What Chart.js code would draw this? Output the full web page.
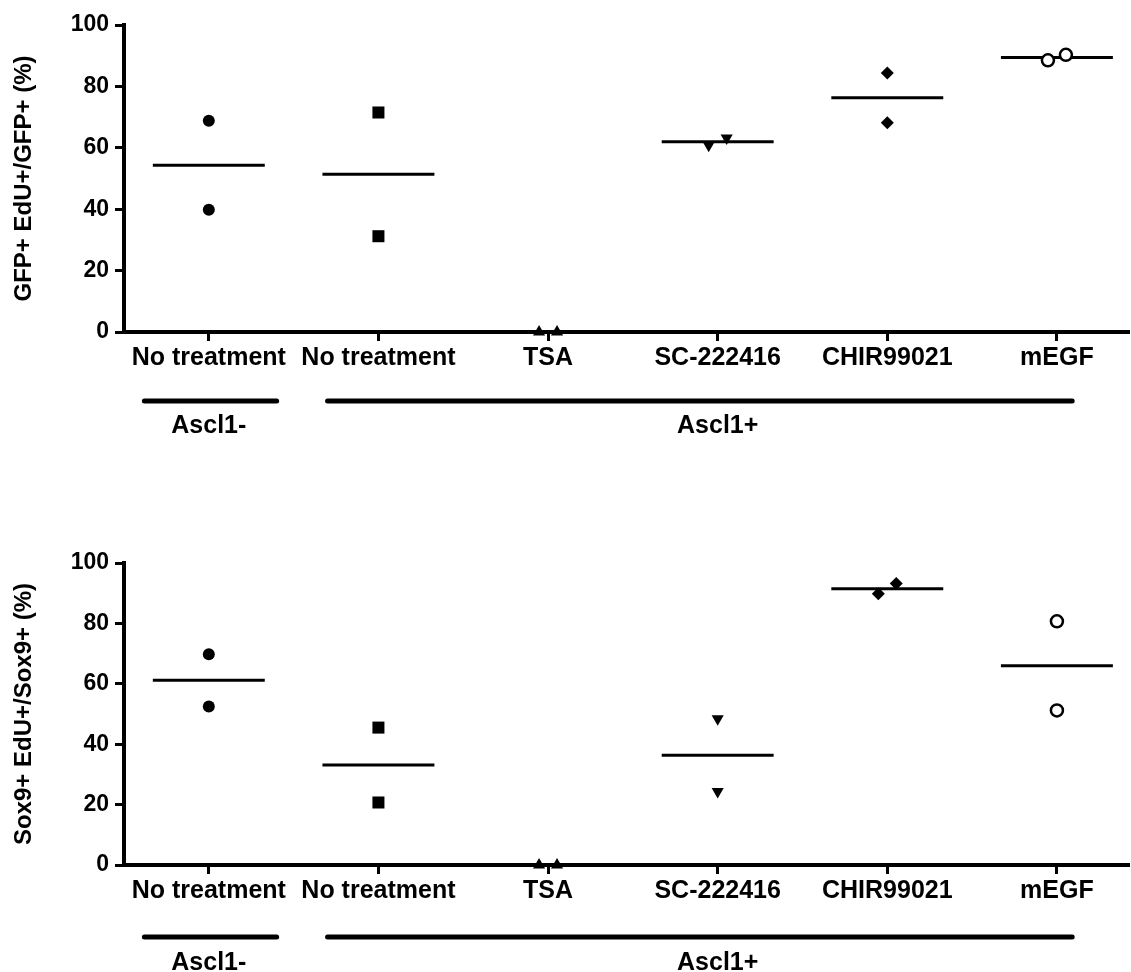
<!DOCTYPE html>
<html>
<head>
<meta charset="utf-8">
<title>EdU incorporation</title>
<script src="https://cdn.jsdelivr.net/npm/chart.js@4.4.1/dist/chart.umd.min.js"></script>
<style>
  html, body { margin: 0; padding: 0; background: #fff; }
  .panel { position: absolute; left: 0; width: 1131px; height: 486px; }
</style>
</head>
<body>
<div class="panel" style="top:0"><canvas id="chartGfp" width="1131" height="486"></canvas></div>
<div class="panel" style="top:486px"><canvas id="chartSox9" width="1131" height="486"></canvas></div>
<script>
// categories along the x axis
const categories = ["No treatment", "No treatment", "TSA", "SC-222416", "CHIR99021", "mEGF"];

// GFP+ EdU+/GFP+ (%) - two replicates per condition
const gfpRep1 = [68.8, 71.5, 0, 60.8, 84.4, 88.5];
const gfpRep2 = [39.8, 31.2, 0, 63.2, 68.2, 90.3];

// Sox9+ EdU+/Sox9+ (%) - two replicates per condition
const sox9Rep1 = [69.8, 45.5, 0, 24.3, 89.8, 51.2];
const sox9Rep2 = [52.5, 20.7, 0, 48.4, 93.2, 80.7];

const yTicks = [0, 20, 40, 60, 80, 100];

// bracket groups under the axis
const groupLabels = ["Ascl1-", "Ascl1+"];
const groupFirst = [0, 1];
const groupLast = [0, 5];

// --- styles ---
const FONT = '"Liberation Sans", Arial, Helvetica, sans-serif';
const markerShape = ["circle", "rect", "triangle", "triangle", "rectRot", "circle"];
const markerRotation = [0, 0, 0, 180, 0, 0];
const markerRadius = [6, 8.5, 7, 7, 6.5, 6];
const markerFilled = [true, true, true, true, true, false];
const groupBarPad = [[0.38, 0.40], [0.30, 0.09]];
const MEAN_HALF = 0.33;
const DODGE = 0.053;

function makeDatasets(rep1, rep2) {
    const sets = [];
    categories.forEach((c, i) => {
        const close = Math.abs(rep1[i] - rep2[i]) < 5;
        const off = close ? DODGE : 0;
        sets.push({
            label: c,
            data: [{ x: i - off, y: rep1[i] }, { x: i + off, y: rep2[i] }],
            pointStyle: markerShape[i],
            rotation: markerRotation[i],
            pointRadius: markerRadius[i],
            pointHoverRadius: markerRadius[i],
            backgroundColor: markerFilled[i] ? "#000" : "#fff",
            borderColor: "#000",
            pointBorderWidth: markerFilled[i] ? 0 : 2.5,
            showLine: false,
            clip: false,
            order: 0
        });
        const mean = (rep1[i] + rep2[i]) / 2;
        sets.push({
            label: c + " mean",
            data: [{ x: i - MEAN_HALF, y: mean }, { x: i + MEAN_HALF, y: mean }],
            showLine: true,
            borderColor: "#000",
            borderWidth: 3,
            pointRadius: 0,
            clip: false,
            order: 1
        });
    });
    return sets;
}

const groupBars = {
    id: "groupBars",
    afterDraw(chart, args, opts) {
        const xs = chart.scales.x;
        const ctx = chart.ctx;
        ctx.save();
        ctx.strokeStyle = "#000";
        ctx.fillStyle = "#000";
        ctx.lineWidth = 5;
        ctx.lineCap = "round";
        ctx.font = "bold 25px " + FONT;
        ctx.textAlign = "center";
        ctx.textBaseline = "middle";
        groupLabels.forEach((g, k) => {
            const x1 = xs.getPixelForValue(groupFirst[k] - groupBarPad[k][0]);
            const x2 = xs.getPixelForValue(groupLast[k] + groupBarPad[k][1]);
            ctx.beginPath();
            ctx.moveTo(x1, opts.barY);
            ctx.lineTo(x2, opts.barY);
            ctx.stroke();
            const xc = xs.getPixelForValue((groupFirst[k] + groupLast[k]) / 2);
            ctx.fillText(g, xc, opts.labelY);
        });
        ctx.restore();
    }
};

function buildPanel(id, title, rep1, rep2, lay) {
    new Chart(document.getElementById(id), {
        type: "scatter",
        data: { datasets: makeDatasets(rep1, rep2) },
        plugins: [groupBars],
        options: {
            responsive: false,
            animation: false,
            layout: { autoPadding: false, padding: { top: lay.padTop, left: 0, right: 2, bottom: 0 } },
            plugins: {
                legend: { display: false },
                tooltip: { enabled: false },
                groupBars: { barY: lay.barY, labelY: lay.labelY }
            },
            scales: {
                x: {
                    type: "linear",
                    min: -0.5,
                    max: 5.425,
                    afterBuildTicks: s => { s.ticks = categories.map((c, i) => ({ value: i })); },
                    afterFit: s => { s.height = lay.axisH; },
                    grid: { drawOnChartArea: false, drawTicks: true, tickLength: 9, tickWidth: 3, tickColor: "#000" },
                    border: { display: true, width: 4, color: "#000" },
                    ticks: {
                        autoSkip: false,
                        maxRotation: 0,
                        padding: 2,
                        color: "#000",
                        font: { family: FONT, size: 25, weight: "bold" },
                        callback: v => categories[v]
                    }
                },
                y: {
                    min: 0,
                    max: 100,
                    afterBuildTicks: s => { s.ticks = yTicks.map(v => ({ value: v })); },
                    afterFit: s => { s.width = 124; },
                    grid: { drawOnChartArea: false, drawTicks: true, tickLength: 9, tickWidth: 3, tickColor: "#000" },
                    border: { display: true, width: 4, color: "#000" },
                    ticks: {
                        padding: 6,
                        color: "#000",
                        font: { family: FONT, size: 23, weight: "bold" }
                    },
                    title: {
                        display: true,
                        text: title,
                        color: "#000",
                        padding: { top: 10, bottom: 0 },
                        font: { family: FONT, size: 24, weight: "bold" }
                    }
                }
            }
        }
    });
}

buildPanel("chartGfp", "GFP+ EdU+/GFP+ (%)", gfpRep1, gfpRep2,
    { padTop: 25, axisH: 154, barY: 401, labelY: 426 });
buildPanel("chartSox9", "Sox9+ EdU+/Sox9+ (%)", sox9Rep1, sox9Rep2,
    { padTop: 77, axisH: 107, barY: 451, labelY: 477 });
</script>
</body>
</html>
